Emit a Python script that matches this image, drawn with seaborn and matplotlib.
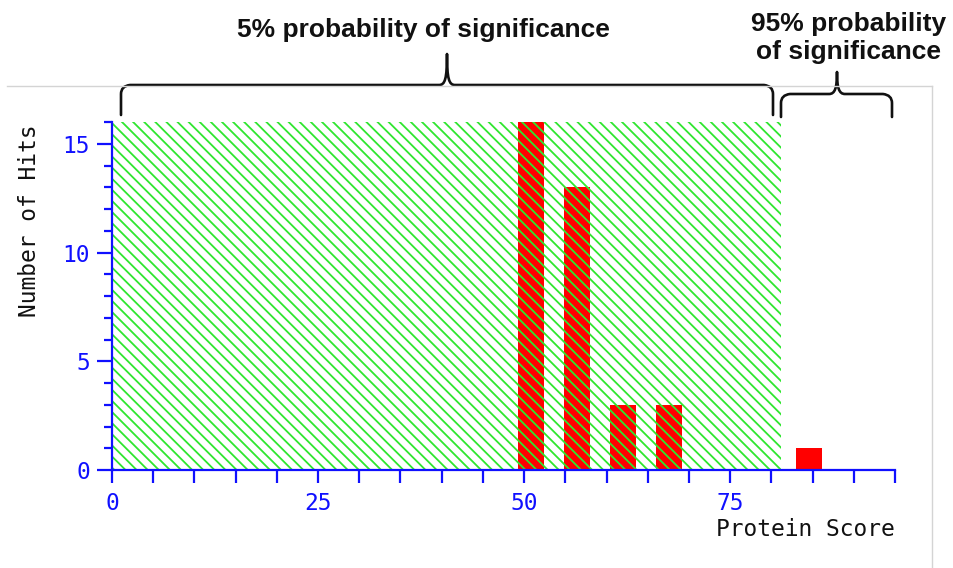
import numpy as np
import matplotlib
matplotlib.use("Agg")
import matplotlib.pyplot as plt
import seaborn as sns
from matplotlib.patches import Rectangle, PathPatch
from matplotlib.path import Path
from matplotlib.lines import Line2D
from matplotlib.ticker import MultipleLocator, FixedLocator

# ---- data ----
score_bins = [50.8, 56.4, 62.0, 67.6, 84.6]   # bar centres (protein score)
hits = [16, 13, 3, 3, 1]                       # number of hits
sig_threshold = 81.2                           # edge of the hatched region
x_major = [0, 25, 50, 75]
y_major = [0, 5, 10, 15]
label_low = "5% probability of significance"
label_high = "95% probability\nof significance"

W, H = 954, 568
fig = plt.figure(figsize=(W / 100, H / 100), dpi=100)
ax = fig.add_axes([112 / W, 1 - 470 / H, 783 / W, 348 / H])

plt.rcParams["hatch.linewidth"] = 1.3
blue = "#1010ff"
green = "#2fe62f"

sns.barplot(x=score_bins, y=hits, native_scale=True, color="#ff0000",
            saturation=1, width=0.57, errorbar=None, linewidth=0, ax=ax)

ax.add_patch(Rectangle((0, 0), sig_threshold, 16, fill=False,
                       hatch="\\\\\\", edgecolor=green, linewidth=0,
                       zorder=3))

ax.set_xlim(0, 95)
ax.set_ylim(0, 16)
ax.set_facecolor("none")
for s in ["top", "right"]:
    ax.spines[s].set_visible(False)
for s in ["left", "bottom"]:
    ax.spines[s].set_color(blue)
    ax.spines[s].set_linewidth(1.6)
    ax.spines[s].set_zorder(5)

ax.xaxis.set_major_locator(FixedLocator(x_major))
ax.xaxis.set_minor_locator(MultipleLocator(5))
ax.yaxis.set_major_locator(FixedLocator(y_major))
ax.yaxis.set_minor_locator(MultipleLocator(1))
ax.set_xticklabels([str(v) for v in x_major])
ax.set_yticklabels([str(v) for v in y_major])
mono = "DejaVu Sans Mono"
fs = 16.5
ax.tick_params(axis="x", which="both", direction="out", length=9, width=1.6,
               color=blue, pad=7, labelcolor=blue, labelsize=fs)
ax.tick_params(axis="y", which="major", direction="out", length=11, width=1.6,
               color=blue, pad=5, labelcolor=blue, labelsize=fs)
ax.tick_params(axis="y", which="minor", direction="out", length=6, width=1.6,
               color=blue)
for lab in ax.get_xticklabels() + ax.get_yticklabels():
    lab.set_family(mono)
ax.set_xlabel("")
ax.set_ylabel("")

ax.text(1.0, -(530 - 470) / 348, "Protein Score", transform=ax.transAxes,
        ha="right", va="center", family=mono, fontsize=fs, color="#111111")
ax.text((30 - 112) / 783, (470 - 221) / 348, "Number of Hits",
        transform=ax.transAxes, rotation=90, ha="center", va="center",
        family=mono, fontsize=fs, color="#111111")

# ---- figure decorations (pixel helper) ----
def fx(px):
    return px / W

def fy(py):
    return 1 - py / H

fig.add_artist(Line2D([fx(7), fx(932)], [fy(86), fy(86)], color="#d4d4d4",
                      lw=1.0, transform=fig.transFigure))
fig.add_artist(Line2D([fx(932), fx(932)], [fy(86), fy(568)], color="#d4d4d4",
                      lw=1.0, transform=fig.transFigure))


def brace(x0, x1, ybot, yline, ypeak, xm, r=9):
    pts = [
        (x0, ybot), (x0, yline + r),
        (x0, yline + 1), (x0 + r, yline),
        (xm - 8, yline),
        (xm - 2, yline), (xm, yline - 6), (xm, ypeak),
        (xm, yline - 6), (xm + 2, yline), (xm + 8, yline),
        (x1 - r, yline),
        (x1, yline + 1), (x1, yline + r),
        (x1, ybot),
    ]
    codes = [Path.MOVETO, Path.LINETO,
             Path.CURVE3, Path.CURVE3,
             Path.LINETO,
             Path.CURVE4, Path.CURVE4, Path.CURVE4,
             Path.CURVE4, Path.CURVE4, Path.CURVE4,
             Path.LINETO,
             Path.CURVE3, Path.CURVE3,
             Path.LINETO]
    verts = [(fx(a), fy(b)) for a, b in pts]
    fig.add_artist(PathPatch(Path(verts, codes), fill=False, lw=1.9,
                             edgecolor="#111111", transform=fig.transFigure,
                             capstyle="round", joinstyle="round"))


brace(121, 773, 115, 85, 54, 447)
brace(781, 892, 117, 94, 72, 837)

fig.text(fx(423), fy(30), label_low, ha="center", va="center",
         family="Liberation Sans", weight="bold", fontsize=19, color="#111111")
fig.text(fx(849), fy(38), label_high, ha="center", va="center",
         family="Liberation Sans", weight="bold", fontsize=19, color="#111111",
         linespacing=1.25)

fig.savefig("out.png", dpi=100)
